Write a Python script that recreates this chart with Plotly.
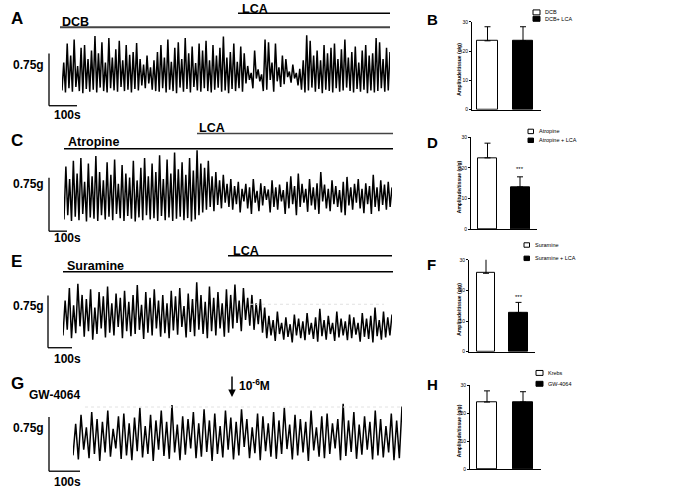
import numpy as np
import plotly.graph_objects as go

W, H = 685, 491
K = 0.75 / 53.0  # grams per pixel (0.75 g scale bar = 53 px)

# ---------------- DATA ----------------
# Contraction traces: alternating trough / peak tension (g above trace floor)
A_peaks = [0.45, 0.72, 0.55, 0.78, 0.40, 0.66, 0.70, 0.50, 0.62, 0.83, 0.58, 0.74, 0.45, 0.80, 0.52, 0.64, 0.76, 0.48, 0.70, 0.56, 0.60, 0.73, 0.50,
           0.42, 0.55, 0.38, 0.48, 0.60,
           0.70, 0.52, 0.78, 0.46, 0.66, 0.74, 0.50, 0.80, 0.58, 0.68, 0.44, 0.72, 0.62, 0.76, 0.48, 0.70, 0.55, 0.66, 0.82, 0.52, 0.60, 0.72, 0.46, 0.68, 0.58,
           0.40, 0.30, 0.62, 0.35, 0.28, 0.78, 0.74, 0.45, 0.72, 0.38, 0.55, 0.50, 0.32, 0.42, 0.30, 0.36, 0.48,
           0.84, 0.76, 0.55, 0.62, 0.48, 0.70, 0.58, 0.66, 0.72, 0.50, 0.64, 0.78, 0.52, 0.60, 0.68, 0.45, 0.62, 0.70, 0.55, 0.58, 0.80, 0.74, 0.50, 0.66, 0.60]
A_troughs = [0.05, 0.02, 0.08, 0.03, 0.10, 0.04, 0.01, 0.07, 0.03, 0.06, 0.02, 0.09, 0.04, 0.02, 0.08, 0.05, 0.03, 0.10, 0.04, 0.06, 0.02, 0.07, 0.05,
             0.12, 0.08, 0.15, 0.06, 0.04,
             0.03, 0.08, 0.02, 0.06, 0.04, 0.01, 0.09, 0.03, 0.07, 0.02, 0.10, 0.05, 0.03, 0.08, 0.04, 0.02, 0.06, 0.09, 0.03, 0.05, 0.01, 0.07, 0.04, 0.08, 0.03,
             0.15, 0.20, 0.08, 0.22, 0.18, 0.04, 0.06, 0.20, 0.03, 0.18, 0.10, 0.14, 0.24, 0.16, 0.22, 0.12, 0.06,
             0.02, 0.05, 0.09, 0.03, 0.07, 0.01, 0.06, 0.04, 0.02, 0.08, 0.03, 0.05, 0.09, 0.04, 0.02, 0.07, 0.03, 0.06, 0.01, 0.05, 0.02, 0.04, 0.08, 0.03, 0.05]

C_peaks = [0.80, 0.62, 0.88, 0.70, 0.92, 0.58, 0.84, 0.66, 0.95, 0.72, 0.60, 0.86, 0.68, 0.90, 0.55, 0.82, 0.70, 0.64, 0.88, 0.60, 0.78, 0.92, 0.66, 0.84,
           0.72, 0.96, 0.62, 0.90, 0.70, 1.00, 0.76, 0.86, 0.68, 0.92, 0.74, 1.03, 0.84, 0.78, 0.88, 0.66, 0.72, 0.60, 0.68, 0.55, 0.62,
           0.52, 0.58, 0.48, 0.55, 0.50, 0.62, 0.45, 0.56, 0.52, 0.47, 0.60, 0.50, 0.54, 0.46, 0.58, 0.66, 0.52, 0.70, 0.55, 0.48, 0.62, 0.50,
           0.56, 0.72, 0.54, 0.48, 0.60, 0.52, 0.46, 0.58, 0.65, 0.50, 0.55, 0.62, 0.48, 0.56, 0.52, 0.68, 0.50, 0.60, 0.54, 0.58, 0.50]
C_troughs = [0.04, 0.10, 0.02, 0.08, 0.03, 0.12, 0.01, 0.07, 0.05, 0.02, 0.10, 0.04, 0.08, 0.03, 0.12, 0.06, 0.02, 0.09, 0.05, 0.01, 0.07, 0.03, 0.10, 0.04,
             0.06, 0.02, 0.09, 0.03, 0.07, 0.02, 0.05, 0.08, 0.03, 0.06, 0.01, 0.04, 0.10, 0.14, 0.18, 0.22, 0.16, 0.25, 0.20, 0.28, 0.22,
             0.18, 0.26, 0.14, 0.30, 0.20, 0.12, 0.28, 0.16, 0.24, 0.32, 0.14, 0.22, 0.18, 0.30, 0.12, 0.20, 0.26, 0.10, 0.22, 0.28, 0.15, 0.24,
             0.18, 0.12, 0.30, 0.20, 0.16, 0.26, 0.22, 0.14, 0.10, 0.24, 0.18, 0.28, 0.20, 0.13, 0.26, 0.12, 0.22, 0.16, 0.25, 0.18, 0.22]

E_peaks = [0.62, 0.80, 0.55, 0.86, 0.70, 0.64, 0.78, 0.52, 0.74, 0.68, 0.82, 0.58, 0.72, 0.66, 0.76, 0.60, 0.70, 0.84, 0.56, 0.74,
           0.66, 0.78, 0.62, 0.70, 0.58, 0.76, 0.68, 0.80, 0.54, 0.72, 0.64, 0.88, 0.70, 0.60, 0.82, 0.66, 0.74, 0.58, 0.78, 0.70,
           0.85, 0.62, 0.80, 0.66, 0.70, 0.58, 0.64, 0.52,
           0.40, 0.34, 0.46, 0.30, 0.38, 0.28, 0.42, 0.36, 0.32, 0.44, 0.30, 0.38, 0.50, 0.34, 0.40,
           0.30, 0.46, 0.36, 0.32, 0.42, 0.38, 0.30, 0.44, 0.36, 0.40, 0.52, 0.34, 0.46, 0.38, 0.42]
E_troughs = [0.12, 0.20, 0.08, 0.15, 0.25, 0.10, 0.18, 0.06, 0.14, 0.22, 0.09, 0.16, 0.12, 0.24, 0.08, 0.18, 0.11, 0.14, 0.20, 0.07,
             0.16, 0.12, 0.22, 0.10, 0.15, 0.08, 0.19, 0.13, 0.24, 0.09, 0.17, 0.11, 0.20, 0.14, 0.08, 0.18, 0.12, 0.22, 0.10, 0.16,
             0.22, 0.30, 0.18, 0.34, 0.26, 0.20, 0.28, 0.16,
             0.08, 0.12, 0.04, 0.14, 0.06, 0.10, 0.02, 0.12, 0.08, 0.05, 0.13, 0.07, 0.03, 0.11, 0.06,
             0.14, 0.04, 0.09, 0.12, 0.05, 0.08, 0.13, 0.03, 0.10, 0.07, 0.02, 0.11, 0.06, 0.09, 0.12]

G_peaks = [0.55, 0.68, 0.50, 0.72, 0.62, 0.58, 0.74, 0.48, 0.66, 0.70, 0.56, 0.64, 0.78, 0.52, 0.68, 0.60, 0.74, 0.58, 0.82, 0.54,
           0.66, 0.62, 0.72, 0.56, 0.76, 0.60, 0.70, 0.52, 0.74, 0.64, 0.58, 0.76, 0.62, 0.50, 0.70, 0.66, 0.56, 0.72, 0.60, 0.78,
           0.54, 0.68, 0.62, 0.58, 0.74, 0.50, 0.66, 0.70, 0.56, 0.62, 0.84, 0.60, 0.72, 0.54, 0.66, 0.58, 0.74, 0.62, 0.52, 0.70, 0.60, 0.80]
G_troughs = [0.10, 0.04, 0.18, 0.06, 0.12, 0.02, 0.14, 0.08, 0.20, 0.05, 0.10, 0.03, 0.16, 0.07, 0.12, 0.02, 0.18, 0.09, 0.05, 0.14,
             0.03, 0.11, 0.20, 0.06, 0.08, 0.15, 0.02, 0.12, 0.07, 0.18, 0.04, 0.10, 0.22, 0.06, 0.13, 0.03, 0.16, 0.08, 0.05, 0.12,
             0.19, 0.04, 0.10, 0.14, 0.02, 0.17, 0.08, 0.06, 0.12, 0.20, 0.03, 0.09, 0.15, 0.05, 0.11, 0.18, 0.04, 0.10, 0.07, 0.14, 0.03, 0.06]

# Bar charts: amplitude/tissue (g/g), mean and SEM
B_groups = ["DCB", "DCB+ LCA"]
B_means = [23.5, 23.5]
B_err = [4.8, 4.8]
D_groups = ["Atropine", "Atropine + LCA"]
D_means = [23.3, 13.8]
D_err = [4.8, 3.3]
F_groups = ["Suramine", "Suramine + LCA"]
F_means = [25.6, 12.8]
F_err = [5.4, 3.3]
H_groups = ["Krebs", "GW-4064"]
H_means = [24.0, 24.0]
H_err = [4.0, 3.7]
bar_ticks = [0, 10, 20, 30]

# ---------------- LAYOUT HELPERS ----------------
def px(x):
    return x / W

def py(y):
    return 1 - y / H

FONT = "Liberation Sans, Arial, sans-serif"
fig = go.Figure()
axes = {}
shapes = []
annos = []

def hline(x0, x1, y, color="black", width=1.5, dash=None):
    shapes.append(dict(type="line", xref="paper", yref="paper", x0=px(x0), x1=px(x1), y0=py(y), y1=py(y),
                       line=dict(color=color, width=width, dash=dash)))

def vline(x, y0, y1, color="black", width=1.5):
    shapes.append(dict(type="line", xref="paper", yref="paper", x0=px(x), x1=px(x), y0=py(y0), y1=py(y1),
                       line=dict(color=color, width=width)))

def text(x, y, s, size=12, xanchor="left", bold=True, angle=0):
    annos.append(dict(xref="paper", yref="paper", x=px(x), y=py(y), text=("<b>%s</b>" % s) if bold else s,
                      showarrow=False, xanchor=xanchor, yanchor="middle", textangle=angle,
                      font=dict(family=FONT, size=size, color="black")))

# ---------------- TRACE PANELS ----------------
trace_panels = [
    dict(peaks=A_peaks, troughs=A_troughs, period=12.0, x0=62, x1=390, base=92, top=25, bot=100),
    dict(peaks=C_peaks, troughs=C_troughs, period=12.0, x0=64, x1=392, base=222, top=140, bot=232),
    dict(peaks=E_peaks, troughs=E_troughs, period=12.0, x0=63, x1=392, base=345, top=270, bot=352),
    dict(peaks=G_peaks, troughs=G_troughs, period=12.0, x0=73, x1=402, base=465, top=400, bot=475),
]

for i, p in enumerate(trace_panels):
    n = i + 1
    sfx = "" if n == 1 else str(n)
    m = min(len(p["peaks"]), len(p["troughs"]))
    y = np.empty(2 * m)
    y[0::2] = p["troughs"][:m]
    y[1::2] = p["peaks"][:m]
    t = np.arange(2 * m) * p["period"] / 2.0
    fig.add_trace(go.Scatter(x=t, y=y, mode="lines", line=dict(color="black", width=1.5),
                             xaxis="x" + sfx, yaxis="y" + sfx, showlegend=False, hoverinfo="skip"))
    axes["xaxis" + sfx] = dict(domain=[px(p["x0"]), px(p["x1"])], range=[0, t[-1]], visible=False,
                               anchor="y" + sfx, fixedrange=True)
    axes["yaxis" + sfx] = dict(domain=[py(p["bot"]), py(p["top"])],
                               range=[(p["base"] - p["bot"]) * K, (p["base"] - p["top"]) * K],
                               visible=False, anchor="x" + sfx, fixedrange=True)

# Panel letters / treatment labels / lines
text(9, 16, "A", size=17)
text(60, 19, "DCB", size=12.5)
hline(60, 390, 24.5, color="#444444", width=2)
text(240, 6, "LCA", size=12.5)
hline(238, 390, 10.5, width=1.5)

text(9, 139, "C", size=17)
text(66, 141, "Atropine", size=12.5)
hline(64, 393, 147.5, width=1.5)
text(197, 127, "LCA", size=12.5)
hline(197, 393, 132, color="#444444", width=1.5)

text(9, 262, "E", size=17)
text(65, 266, "Suramine", size=12.5)
hline(63, 393, 272, width=1.5)
text(231, 251, "LCA", size=12.5)
hline(228, 392, 256, width=1.5)

text(9, 385, "G", size=17)
text(27, 397, "GW-4064", size=12)
annos.append(dict(xref="paper", yref="paper", x=px(232), y=py(399), ax=0, ay=-22,
                  axref="pixel", ayref="pixel", text="", showarrow=True, arrowhead=2, arrowsize=1,
                  arrowwidth=1.5, arrowcolor="black"))
text(237, 387, "10<sup>-6</sup>M", size=12)

# faint dotted guide lines
hline(250, 384, 305, color="#e2e2e2", width=1, dash="dot")
hline(85, 400, 409, color="#e2e2e2", width=1, dash="dot")

# scale bars
for (sx, sy0, sy1, hx1, gy, sy) in [(49, 51, 104, 77, 63, 113), (49, 177, 231, 67, 183, 238),
                                     (48, 296, 349, 72, 307, 360), (49, 419, 474, 80, 430, 485)]:
    vline(sx, sy0, sy1, width=1.3)
    hline(sx, hx1, sy1, width=1.3)
    text(46, gy, "0.75g", size=12, xanchor="right")
    text(52, sy, "100s", size=12)

# ---------------- BAR PANELS ----------------
bar_panels = [
    dict(letter="B", ly=17, groups=B_groups, means=B_means, err=B_err, ax0=472, ax1=541, c1=487.5, c2=523, bw=20.5,
         y0=108, y30=19, leg_x=533, leg_y=[9.5, 16], leg_w=7, leg_h=5, star=None),
    dict(letter="D", ly=141, groups=D_groups, means=D_means, err=D_err, ax0=471, ax1=537, c1=487.5, c2=520, bw=19,
         y0=229, y30=136, leg_x=528, leg_y=[130, 139], leg_w=5.5, leg_h=4.5, star=(520, 168)),
    dict(letter="F", ly=265, groups=F_groups, means=F_means, err=F_err, ax0=469, ax1=535, c1=486, c2=518.5, bw=18.5,
         y0=353, y30=260, leg_x=524, leg_y=[245, 258.5], leg_w=5.5, leg_h=4.5, star=(518.5, 298)),
    dict(letter="H", ly=386, groups=H_groups, means=H_means, err=H_err, ax0=470, ax1=541, c1=487, c2=523, bw=20,
         y0=472, y30=387, leg_x=536, leg_y=[374.5, 385.5], leg_w=7, leg_h=5, star=None),
]

for j, b in enumerate(bar_panels):
    n = 5 + j
    sfx = str(n)
    unit = b["c2"] - b["c1"]
    xr = [(b["ax0"] - b["c1"]) / unit, 1 + (b["ax1"] - b["c2"]) / unit]
    for k, (g, m_, e_) in enumerate(zip(b["groups"], b["means"], b["err"])):
        fig.add_trace(go.Bar(x=[k], y=[m_], width=b["bw"] / unit, name=g,
                             marker=dict(color="white" if k == 0 else "black", line=dict(color="black", width=1)),
                             error_y=dict(type="data", array=[e_], arrayminus=[0], symmetric=False,
                                          color="black", thickness=1, width=3),
                             xaxis="x" + sfx, yaxis="y" + sfx, showlegend=False, hoverinfo="skip"))
    axes["xaxis" + sfx] = dict(domain=[px(b["ax0"]), px(b["ax1"])], range=xr, showline=True, linecolor="black",
                               linewidth=1, showticklabels=False, ticks="", showgrid=False, zeroline=False,
                               anchor="y" + sfx, fixedrange=True)
    axes["yaxis" + sfx] = dict(domain=[py(b["y0"]), py(b["y30"])], range=[0, 30], tickvals=bar_ticks,
                               showline=True, linecolor="black", linewidth=1, ticks="outside", ticklen=2,
                               tickwidth=1, tickcolor="black", showgrid=False, zeroline=False,
                               tickfont=dict(family=FONT, size=5, color="black"), anchor="x" + sfx,
                               fixedrange=True)
    text(425, b["ly"], b["letter"], size=15)
    text(459, (b["y0"] + b["y30"]) / 2 + 4, "Amplitude/tissue (g/g)", size=5, xanchor="center", angle=-90)
    for k, g in enumerate(b["groups"]):
        ly = b["leg_y"][k]
        shapes.append(dict(type="rect", xref="paper", yref="paper", x0=px(b["leg_x"]), x1=px(b["leg_x"] + b["leg_w"]),
                           y0=py(ly + b["leg_h"] / 2), y1=py(ly - b["leg_h"] / 2),
                           fillcolor="white" if k == 0 else "black", line=dict(color="black", width=1)))
        text(b["leg_x"] + b["leg_w"] + 3, ly, g, size=5.5, bold=False)
    if b["star"]:
        text(b["star"][0], b["star"][1], "***", size=6, xanchor="center", bold=False)

fig.update_layout(width=W, height=H, margin=dict(l=0, r=0, t=0, b=0), paper_bgcolor="white",
                  plot_bgcolor="rgba(0,0,0,0)", shapes=shapes, annotations=annos, bargap=0, **axes)

fig.write_html("out.html", config={"displayModeBar": False},
               post_script="document.body.style.margin='0';document.body.style.overflow='hidden';")
